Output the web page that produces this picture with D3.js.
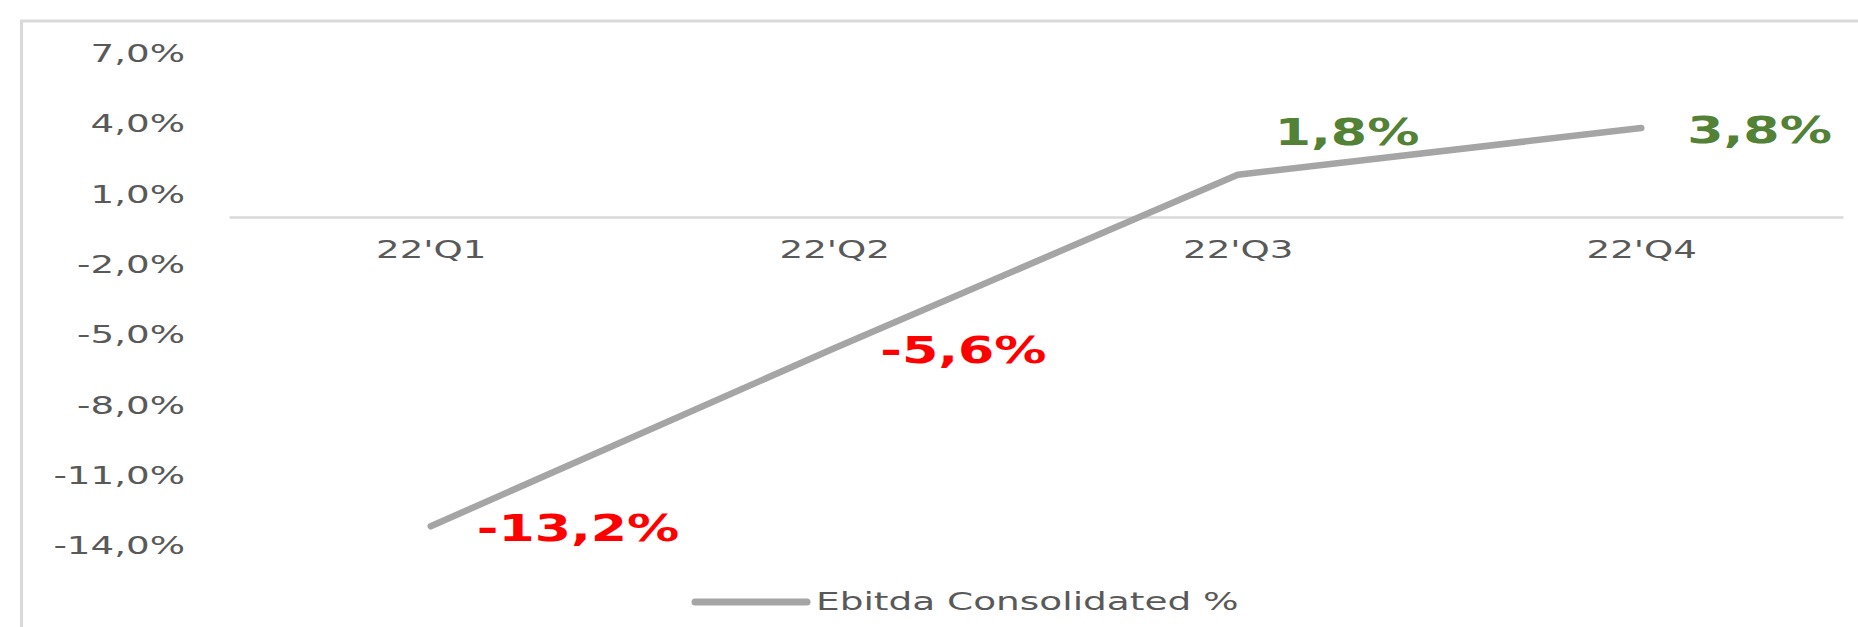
<!DOCTYPE html>
<html>
<head>
<meta charset="utf-8">
<script src="https://cdn.jsdelivr.net/npm/d3@7"></script>
<style>
  body { margin: 0; background: #fff; }
  text { font-family: "DejaVu Sans", sans-serif; }
</style>
</head>
<body>
<div id="chart"></div>
<script>
// ebitda line chart, quarterly

const categories = ["22'Q1", "22'Q2", "22'Q3", "22'Q4"];
const ebitda = [-13.2, -5.6, 1.8, 3.8];
const yTicks = [-14, -11, -8, -5, -2, 1, 4, 7];
const seriesName = "Ebitda Consolidated %";
const labelPos = ["right", "right", "above", "right"]; // where each value label sits

const width = 1858,
    height = 627,
    sx = 1.55; // the source picture is stretched wide, so text is too

const loc = d3.formatLocale({ decimal: ",", thousands: ".", grouping: [3], currency: ["", ""], minus: "-" });
const pct = v => loc.format(".1f")(v) + "%";

const svg = d3.select("#chart")
    .append("svg")
    .attr("width", width)
    .attr("height", height);

// outer frame, cut off right and bottom
svg.append("rect")
    .attr("x", 21.5).attr("y", 21)
    .attr("width", width).attr("height", height)
    .attr("fill", "none")
    .attr("stroke", "#d9d9d9")
    .attr("stroke-width", 3);

let x = d3.scalePoint()
    .domain(categories)
    .range([229, 1843])
    .padding(0.5);

let y = d3.scaleLinear()
    .domain([-14, 7])
    .range([545, 53]);

// y axis labels only
let yAxis = svg.append("g")
    .attr("transform", "translate(185,0)")
    .call(d3.axisLeft(y).tickValues(yTicks).tickSize(0).tickFormat(pct));
yAxis.select(".domain").remove();
yAxis.selectAll("text")
    .attr("x", 0)
    .attr("dy", "0.36em")
    .attr("transform", `scale(${sx},1)`)
    .attr("font-size", 24)
    .attr("font-family", "DejaVu Sans")
    .attr("fill", "#595959");

// category axis sits on zero
let xAxis = svg.append("g")
    .attr("transform", `translate(0,${y(0)})`)
    .call(d3.axisBottom(x).tickSize(0).tickSizeOuter(0));
xAxis.select(".domain")
    .attr("stroke", "#d9d9d9")
    .attr("stroke-width", 2.5);
xAxis.selectAll("text")
    .attr("y", 0)
    .attr("dy", null)
    .attr("transform", `translate(0,41) scale(${sx},1)`)
    .attr("font-size", 24)
    .attr("font-family", "DejaVu Sans")
    .attr("fill", "#595959");

let data = categories.map((c, i) => ({ cat: c, v: ebitda[i], pos: labelPos[i] }));

let line = d3.line()
    .x(d => x(d.cat))
    .y(d => y(d.v));

svg.append("path")
    .datum(data)
    .attr("d", line)
    .attr("fill", "none")
    .attr("stroke", "#a5a5a5")
    .attr("stroke-width", 6.5)
    .attr("stroke-linecap", "round")
    .attr("stroke-linejoin", "round");

// value labels
svg.selectAll(".val")
    .data(data)
    .join("text")
    .attr("class", "val")
    .attr("transform", d => {
        let dx = d.pos === "above" ? 37 : 46,
            dy = d.pos === "above" ? -30 : 15;
        return `translate(${x(d.cat) + dx},${y(d.v) + dy}) scale(1.41,1)`;
    })
    .attr("font-size", 37)
    .attr("font-weight", "bold")
    .attr("fill", d => d.v < 0 ? "#ff0000" : "#538135")
    .text(d => pct(d.v));

// legend
let legend = svg.append("g").attr("transform", "translate(695,602)");
legend.append("line")
    .attr("x1", 0).attr("x2", 112)
    .attr("stroke", "#a5a5a5")
    .attr("stroke-width", 7)
    .attr("stroke-linecap", "round");
legend.append("text")
    .attr("transform", `translate(121,8) scale(1.56,1)`)
    .attr("font-size", 24)
    .attr("fill", "#595959")
    .text(seriesName);
</script>
</body>
</html>
